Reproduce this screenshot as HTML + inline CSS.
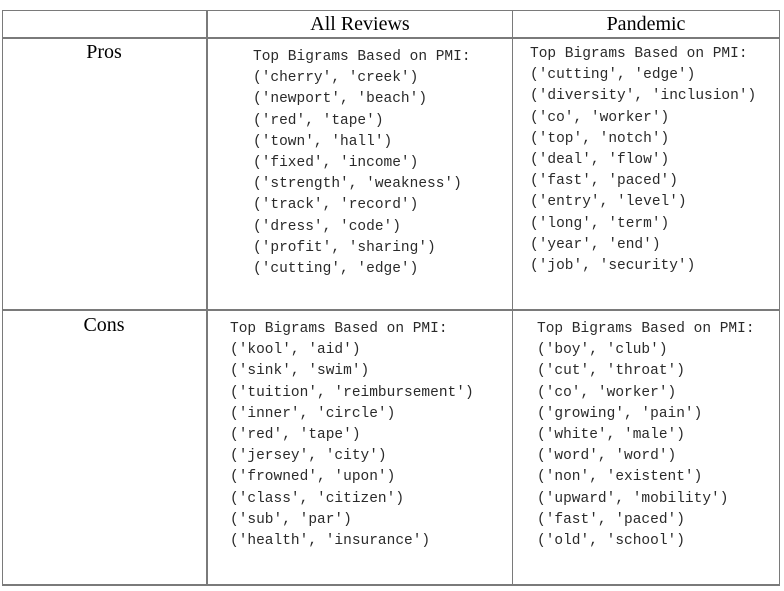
<!DOCTYPE html>
<html><head><meta charset="utf-8"><style>
body{margin:0;width:784px;height:591px;background:#fff;position:relative;overflow:hidden}
.l{position:absolute;background:#7a7a7a}
.h{position:absolute;font-family:"Liberation Serif",serif;font-size:20px;color:#000;line-height:20px;transform:translateX(-50%);white-space:nowrap}
.m{position:absolute;font-family:"Liberation Mono",monospace;font-size:14.5px;line-height:21.2px;color:#2a2a2a;white-space:pre;margin:0}
</style></head><body>
<div class="l" style="left:2px;top:10px;width:778px;height:1px"></div>
<div class="l" style="left:2px;top:37px;width:778px;height:2px"></div>
<div class="l" style="left:2px;top:309px;width:778px;height:2px"></div>
<div class="l" style="left:2px;top:584px;width:778px;height:2px"></div>
<div class="l" style="left:2px;top:10px;width:1px;height:576px"></div>
<div class="l" style="left:206px;top:10px;width:2px;height:576px"></div>
<div class="l" style="left:512px;top:10px;width:1px;height:576px"></div>
<div class="l" style="left:779px;top:10px;width:1px;height:576px"></div>

<div class="h" style="left:360px;top:14px">All Reviews</div>
<div class="h" style="left:646px;top:14px">Pandemic</div>
<div class="h" style="left:104px;top:42px">Pros</div>
<div class="h" style="left:104px;top:315px">Cons</div>

<pre class="m" style="left:253px;top:47px">Top Bigrams Based on PMI:
('cherry', 'creek')
('newport', 'beach')
('red', 'tape')
('town', 'hall')
('fixed', 'income')
('strength', 'weakness')
('track', 'record')
('dress', 'code')
('profit', 'sharing')
('cutting', 'edge')</pre>
<pre class="m" style="left:530px;top:44px">Top Bigrams Based on PMI:
('cutting', 'edge')
('diversity', 'inclusion')
('co', 'worker')
('top', 'notch')
('deal', 'flow')
('fast', 'paced')
('entry', 'level')
('long', 'term')
('year', 'end')
('job', 'security')</pre>
<pre class="m" style="left:230px;top:319px">Top Bigrams Based on PMI:
('kool', 'aid')
('sink', 'swim')
('tuition', 'reimbursement')
('inner', 'circle')
('red', 'tape')
('jersey', 'city')
('frowned', 'upon')
('class', 'citizen')
('sub', 'par')
('health', 'insurance')</pre>
<pre class="m" style="left:537px;top:319px">Top Bigrams Based on PMI:
('boy', 'club')
('cut', 'throat')
('co', 'worker')
('growing', 'pain')
('white', 'male')
('word', 'word')
('non', 'existent')
('upward', 'mobility')
('fast', 'paced')
('old', 'school')</pre>
</body></html>
